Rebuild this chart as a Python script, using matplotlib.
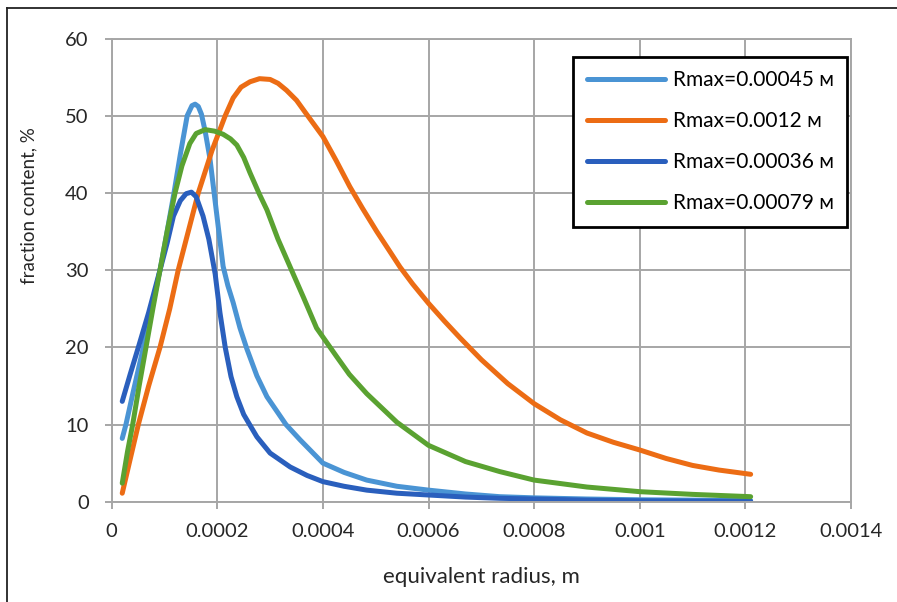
import matplotlib.pyplot as plt
from matplotlib.lines import Line2D

# Rmax=0.00045 m (light blue)
x_045 = [0.00002, 0.000027, 0.00004, 0.00006, 0.000076, 0.0000915, 0.000105, 0.000118,
         0.00013, 0.000143, 0.000152, 0.000158, 0.000164, 0.00017, 0.000177, 0.000186,
         0.000194, 0.000202, 0.000211, 0.00022, 0.00023, 0.000243, 0.000256, 0.000275,
         0.000294, 0.00033, 0.000357, 0.0004, 0.00044, 0.000483, 0.00054, 0.0006,
         0.00067, 0.000735, 0.0008, 0.0009, 0.001, 0.0011, 0.00121]
y_045 = [8.2, 10.0, 14.0, 20.0, 25.0, 30.0, 35.0, 40.0,
         45.0, 50.0, 51.3, 51.5, 51.2, 50.2, 48.0, 44.5,
         40.0, 35.5, 30.5, 28.0, 25.8, 22.5, 19.8, 16.3,
         13.6, 10.0, 8.0, 5.0, 3.8, 2.8, 2.0, 1.5,
         1.0, 0.65, 0.5, 0.35, 0.25, 0.2, 0.15]

# Rmax=0.0012 m (orange)
x_12 = [0.00002, 0.000035, 0.0000505, 0.00007, 0.0000915, 0.00011, 0.000126, 0.000145,
        0.000164, 0.00019, 0.000215, 0.00023, 0.000245, 0.000262, 0.00028, 0.0003,
        0.000315, 0.000331, 0.00035, 0.000369, 0.0004, 0.000425, 0.000451, 0.000475,
        0.000502, 0.000525, 0.000546, 0.00057, 0.0006, 0.00063, 0.00066, 0.0007,
        0.00075, 0.0008, 0.00085, 0.0009, 0.00095, 0.001, 0.00105, 0.0011,
        0.00115, 0.00121]
y_12 = [1.1, 5.5, 10.0, 15.0, 20.0, 25.0, 30.0, 35.0,
        40.0, 45.5, 50.0, 52.3, 53.7, 54.4, 54.8, 54.7,
        54.2, 53.3, 52.0, 50.2, 47.3, 44.2, 40.8, 38.0,
        35.0, 32.6, 30.4, 28.2, 25.7, 23.4, 21.2, 18.4,
        15.3, 12.7, 10.6, 8.9, 7.7, 6.7, 5.6, 4.7,
        4.1, 3.55]

# Rmax=0.00036 m (dark blue)
x_036 = [0.00002, 0.000035, 0.0000505, 0.00007, 0.0000915, 0.000105, 0.000117, 0.00013,
         0.000141, 0.000151, 0.00016, 0.000173, 0.000184, 0.000196, 0.000205, 0.000215,
         0.000226, 0.000237, 0.00025, 0.000262, 0.000275, 0.0003, 0.000338, 0.00037,
         0.0004, 0.00044, 0.000483, 0.00054, 0.0006, 0.00067, 0.000735, 0.0008,
         0.0009, 0.001, 0.0011, 0.00121]
y_036 = [13.0, 16.5, 20.0, 24.5, 30.0, 33.5, 37.0, 39.0,
         39.9, 40.1, 39.5, 37.0, 34.0, 29.5, 24.5, 20.0,
         16.2, 13.6, 11.3, 9.9, 8.4, 6.3, 4.5, 3.4,
         2.6, 2.0, 1.5, 1.1, 0.87, 0.6, 0.44, 0.35,
         0.2, 0.12, 0.08, 0.05]

# Rmax=0.00079 m (green)
x_079 = [0.00002, 0.00003, 0.0000398, 0.000052, 0.000065, 0.000078, 0.0000915, 0.000105,
         0.00012, 0.000133, 0.000148, 0.00016, 0.000177, 0.000195, 0.000211, 0.000225,
         0.000237, 0.00025, 0.000262, 0.00028, 0.000294, 0.000315, 0.000338, 0.000363,
         0.000388, 0.000426, 0.00045, 0.000483, 0.00054, 0.0006, 0.00067, 0.000735,
         0.0008, 0.0009, 0.001, 0.0011, 0.00121]
y_079 = [2.4, 6.5, 10.0, 15.0, 20.0, 25.0, 30.0, 35.0,
         40.0, 43.5, 46.4, 47.7, 48.2, 48.0, 47.6, 47.0,
         46.2, 44.6, 42.6, 39.8, 37.8, 34.0, 30.4, 26.5,
         22.5, 18.8, 16.5, 14.0, 10.3, 7.3, 5.2, 3.9,
         2.8, 1.9, 1.3, 0.95, 0.65]

labels = ['Rmax=0.00045 м', 'Rmax=0.0012 м', 'Rmax=0.00036 м', 'Rmax=0.00079 м']
colors = ['#4a94d4', '#ec6c14', '#2a5fbd', '#5aa231']

plt.rcParams['font.family'] = ['Lato', 'DejaVu Sans']

fig = plt.figure(figsize=(8.97, 6.02), dpi=100)
ax = fig.add_axes([0.1245, 0.1666, 0.8242, 0.7694])

series = [(x_045, y_045), (x_12, y_12), (x_036, y_036), (x_079, y_079)]
for (xs, ys), lab, col in zip(series, labels, colors):
    ax.plot(xs, ys, color=col, lw=3.6, label=lab, solid_capstyle='round', solid_joinstyle='round')

ax.set_xlim(0, 0.0014)
ax.set_ylim(0, 60)
xt = [0, 0.0002, 0.0004, 0.0006, 0.0008, 0.001, 0.0012, 0.0014]
ax.set_xticks(xt)
ax.set_xticklabels(['0', '0.0002', '0.0004', '0.0006', '0.0008', '0.001', '0.0012', '0.0014'])
ax.set_yticks(range(0, 61, 10))
ax.grid(True, color='#a6a6a6', lw=1.4)
ax.set_axisbelow(True)
for s in ax.spines.values():
    s.set_color('#a6a6a6')
    s.set_linewidth(1.4)
ax.tick_params(colors='#a6a6a6', labelcolor='#262626', length=5, width=1.4, labelsize=14.5)
ax.tick_params(axis='x', pad=10)
ax.tick_params(axis='y', pad=11.5)

ax.set_xlabel('equivalent radius, m', fontsize=16, color='#262626')
ax.xaxis.set_label_coords(0.5, -0.142)
ax.set_ylabel('fraction content, %', fontsize=13.5, color='#262626')
ax.yaxis.set_label_coords(-0.1, 0.64)

leg = ax.legend(loc='upper left', bbox_to_anchor=(0.624, 0.961), borderaxespad=0,
                fontsize=15, handlelength=3.75, handletextpad=0.38, labelspacing=1.01,
                borderpad=0.65, fancybox=False, framealpha=1)
leg.get_frame().set_edgecolor('black')
leg.get_frame().set_linewidth(2)

# outer chart frame (top and left edges)
fig.add_artist(Line2D([0.008, 1.0], [0.987, 0.987], color='#222222', lw=1.3))
fig.add_artist(Line2D([0.008, 0.008], [0.987, 0.0], color='#222222', lw=1.3))

fig.savefig('out.png', dpi=100)
